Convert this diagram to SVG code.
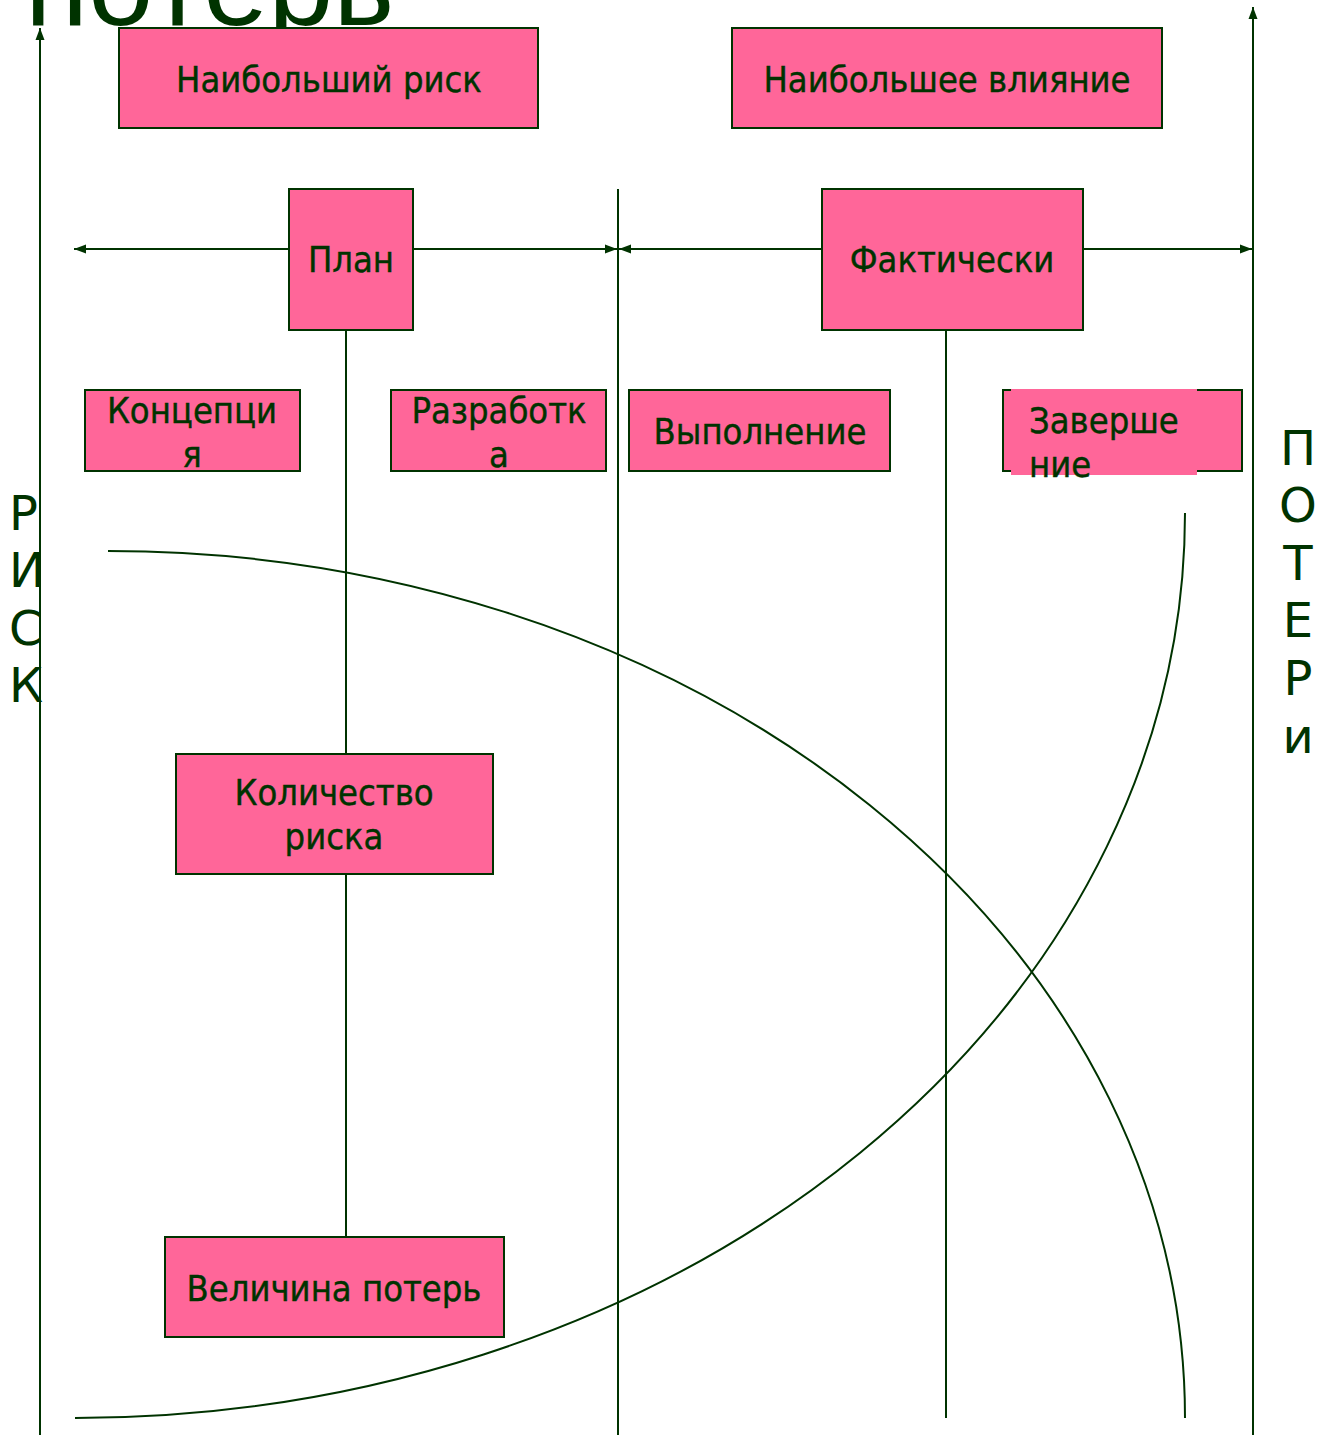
<svg xmlns="http://www.w3.org/2000/svg" width="1327" height="1435" viewBox="0 0 1327 1435">
  <style>
    .box { fill: #FF6699; stroke: #003300; stroke-width: 2; }
    .lbl { font-family: "DejaVu Sans Condensed", "DejaVu Sans", sans-serif; font-size: 36px; fill: #003300; stroke: #003300; stroke-width: 0.4; text-anchor: middle; }
    .left { text-anchor: start; }
    .axis-lbl { font-family: "DejaVu Sans", sans-serif; font-size: 48px; fill: #003300; }
    .ln { stroke: #003300; stroke-width: 2; fill: none; }
  </style>
  <defs>
    <marker id="tip" viewBox="0 0 12 10" refX="12" refY="5" markerWidth="12" markerHeight="10" markerUnits="userSpaceOnUse" orient="auto-start-reverse">
      <path d="M0,0.5 L12,5 L0,9.5 Z" fill="#003300"/>
    </marker>
  </defs>

  <rect width="1327" height="1435" fill="#ffffff"/>

  <!-- title, running off the top edge -->
  <text x="25" y="25" font-family="Liberation Sans, Arial, sans-serif" font-size="117" fill="#003300">потерь</text>

  <g id="connectors">
    <!-- axes -->
    <line class="ln" x1="40" y1="1435" x2="40" y2="28" marker-end="url(#tip)"/>
    <line class="ln" x1="1253" y1="1435" x2="1253" y2="7" marker-end="url(#tip)"/>
    <!-- phase dividers -->
    <line class="ln" x1="618" y1="189" x2="618" y2="1435"/>
    <line class="ln" x1="946" y1="330" x2="946" y2="1418"/>
    <line class="ln" x1="346" y1="330" x2="346" y2="754"/>
    <line class="ln" x1="346" y1="874" x2="346" y2="1237"/>
    <!-- span arrows -->
    <line class="ln" x1="289" y1="249" x2="74" y2="249" marker-end="url(#tip)"/>
    <line class="ln" x1="413" y1="249" x2="617" y2="249" marker-end="url(#tip)"/>
    <line class="ln" x1="822" y1="249" x2="619" y2="249" marker-end="url(#tip)"/>
    <line class="ln" x1="1083" y1="249" x2="1252" y2="249" marker-end="url(#tip)"/>
    <!-- risk and loss curves -->
    <path class="ln" d="M108,551 A1077,867 0 0 1 1185,1418"/>
    <path class="ln" d="M1185,513 A1110,905 0 0 1 75,1418"/>
  </g>

  <g id="n-max-risk">
    <rect class="box" x="119" y="28" width="419" height="100"/>
    <text class="lbl" x="329" y="92">Наибольший риск</text>
  </g>
  <g id="n-max-impact">
    <rect class="box" x="732" y="28" width="430" height="100"/>
    <text class="lbl" x="947" y="92">Наибольшее влияние</text>
  </g>
  <g id="n-plan">
    <rect class="box" x="289" y="189" width="124" height="141"/>
    <text class="lbl" x="351" y="272">План</text>
  </g>
  <g id="n-actual">
    <rect class="box" x="822" y="189" width="261" height="141"/>
    <text class="lbl" x="952" y="272">Фактически</text>
  </g>
  <g id="n-concept">
    <rect class="box" x="85" y="390" width="215" height="81"/>
    <text class="lbl" x="192" y="423">Концепци</text>
    <text class="lbl" x="192" y="467">я</text>
  </g>
  <g id="n-design">
    <rect class="box" x="391" y="390" width="215" height="81"/>
    <text class="lbl" x="499" y="423">Разработк</text>
    <text class="lbl" x="499" y="467">а</text>
  </g>
  <g id="n-exec">
    <rect class="box" x="629" y="390" width="261" height="81"/>
    <text class="lbl" x="760" y="444">Выполнение</text>
  </g>
  <g id="n-finish">
    <rect class="box" x="1003" y="390" width="239" height="81"/>
    <rect x="1011" y="389" width="186" height="86" fill="#FF6699"/>
    <text class="lbl left" x="1029" y="433">Заверше</text>
    <text class="lbl left" x="1029" y="477">ние</text>
  </g>
  <g id="n-risk-amount">
    <rect class="box" x="176" y="754" width="317" height="120"/>
    <text class="lbl" x="334" y="805">Количество</text>
    <text class="lbl" x="334" y="849">риска</text>
  </g>
  <g id="n-loss-size">
    <rect class="box" x="165" y="1237" width="339" height="100"/>
    <text class="lbl" x="334" y="1301">Величина потерь</text>
  </g>

  <!-- vertical axis captions -->
  <g id="axis-risk" class="axis-lbl">
    <text x="9" y="530">Р</text>
    <text x="9" y="587">И</text>
    <text x="9" y="645">С</text>
    <text x="9" y="702">К</text>
  </g>
  <g id="axis-loss" class="axis-lbl" text-anchor="middle">
    <text x="1298" y="465">П</text>
    <text x="1298" y="522">О</text>
    <text x="1298" y="580">Т</text>
    <text x="1298" y="637">Е</text>
    <text x="1298" y="695">Р</text>
    <text x="1298" y="753">и</text>
  </g>
</svg>
